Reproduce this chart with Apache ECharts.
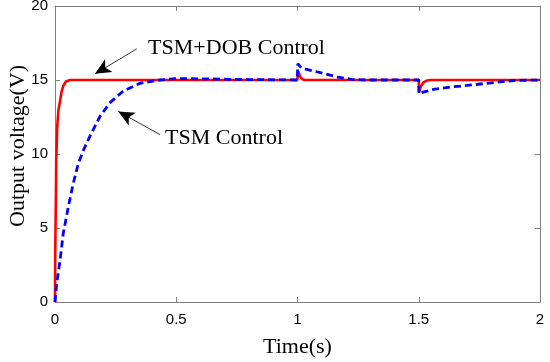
<!DOCTYPE html>
<html>
<head>
<meta charset="utf-8">
<script src="https://cdn.jsdelivr.net/npm/echarts@6/dist/echarts.min.js"></script>
<style>
html,body{margin:0;padding:0;background:#fff;}
#chart{width:550px;height:362px;}
</style>
</head>
<body>
<div id="chart"></div>
<script>
// ---- data ----
var xTicks = [0, 0.5, 1, 1.5, 2];
var yTicks = [0, 5, 10, 15, 20];

var dobName = 'TSM+DOB Control';
var dobT = [0, 0.001, 0.002, 0.004, 0.005, 0.007, 0.009, 0.014, 0.021, 0.027, 0.034, 0.045, 0.062, 0.5,
            1.0, 1.001, 1.006, 1.012, 1.02, 1.03, 1.5, 1.501, 1.505, 1.51, 1.52, 1.535, 1.55, 2.0];
var dobV = [0, 3.3, 3.4, 7.6, 9.6, 10.5, 11.8, 12.95, 13.6, 14.2, 14.6, 14.9, 15, 15,
            15, 15.65, 15.45, 15.2, 15.05, 15, 15, 14.2, 14.3, 14.6, 14.85, 14.97, 15, 15];

var tsmName = 'TSM Control';
var tsmT = [0, 0.007, 0.021, 0.034, 0.055, 0.075, 0.096, 0.117, 0.144, 0.186, 0.227, 0.282, 0.351, 0.433, 0.5, 0.6, 0.8,
            1.0, 1.001, 1.017, 1.058, 1.113, 1.167, 1.224, 1.28,
            1.5, 1.501, 1.518, 1.56, 1.629, 1.698, 1.766, 1.82, 1.9, 2.0];
var tsmV = [0, 1.26, 2.83, 4.63, 6.43, 8.0, 9.35, 10.25, 11.2, 12.56, 13.47, 14.26, 14.78, 15.0, 15.1, 15.08, 15.03,
            15.0, 16.1, 15.8, 15.64, 15.42, 15.19, 15.04, 15.0,
            15.0, 14.05, 14.18, 14.36, 14.52, 14.63, 14.75, 14.85, 14.97, 15.0];

// annotations (data coordinates): [textX, textY, arrowTailX, arrowTailY, arrowHeadX, arrowHeadY]
var dobNote = [0.384, 17.15, 0.337, 17.1, 0.165, 15.42];
var tsmNote = [0.454, 11.05, 0.433, 11.31, 0.261, 12.88];

function pairs(t, v) { return t.map(function (x, i) { return [x, v[i]]; }); }

var axisGray = '#808080';
var labelFont = {fontFamily: 'Liberation Sans, Arial, sans-serif', fontSize: 15, color: '#000'};
var serif = 'Liberation Serif, Times New Roman, serif';

var chart = echarts.init(document.getElementById('chart'), null, {renderer: 'canvas'});

function arrowLine(n) {
  return {
    silent: true,
    symbol: ['none', 'arrow'],
    symbolSize: [11, 16],
    label: {show: false},
    lineStyle: {color: '#000', width: 0.8, type: 'solid'},
    data: [[{coord: [n[2], n[3]]}, {coord: [n[4], n[5]]}]]
  };
}

var option = {
  animation: false,
  backgroundColor: '#fff',
  grid: {left: 55, right: 10, top: 6, bottom: 60, containLabel: false, outerBoundsMode: 'none'},
  xAxis: [{
    type: 'value', min: 0, max: 2, interval: 0.5,
    name: 'Time(s)', nameLocation: 'middle', nameGap: 34, nameMoveOverlap: false,
    nameTextStyle: {fontFamily: serif, fontSize: 22, color: '#000'},
    axisLine: {show: true, onZero: false, lineStyle: {color: axisGray, width: 1}},
    axisTick: {show: true, inside: true, length: 5, lineStyle: {color: axisGray}},
    axisLabel: Object.assign({margin: 10, formatter: function (v) { return xTicks.indexOf(v) >= 0 ? String(v) : ''; }}, labelFont),
    splitLine: {show: false}
  }, {
    type: 'value', min: 0, max: 2, interval: 0.5, position: 'top',
    axisLine: {show: true, onZero: false, lineStyle: {color: axisGray, width: 1}},
    axisTick: {show: true, inside: true, length: 5, lineStyle: {color: axisGray}},
    axisLabel: {show: false}, splitLine: {show: false}
  }],
  yAxis: [{
    type: 'value', min: 0, max: 20, interval: 5,
    name: 'Output voltage(V)', nameLocation: 'middle', nameGap: 26, nameMoveOverlap: false,
    nameTextStyle: {fontFamily: serif, fontSize: 22, color: '#000', padding: [0, 0, 0, 16]},
    axisLine: {show: true, onZero: false, lineStyle: {color: axisGray, width: 1}},
    axisTick: {show: true, inside: true, length: 5, lineStyle: {color: axisGray}},
    axisLabel: Object.assign({margin: 7, padding: [7, 0, 0, 0], formatter: function (v) { return yTicks.indexOf(v) >= 0 ? String(v) : ''; }}, labelFont),
    splitLine: {show: false}
  }, {
    type: 'value', min: 0, max: 20, interval: 5, position: 'right',
    axisLine: {show: true, onZero: false, lineStyle: {color: axisGray, width: 1}},
    axisTick: {show: true, inside: true, length: 5, lineStyle: {color: axisGray}},
    axisLabel: {show: false}, splitLine: {show: false}
  }],
  series: [{
    name: dobName, type: 'line', showSymbol: false, symbol: 'none',
    data: pairs(dobT, dobV),
    lineStyle: {color: '#ff0000', width: 2.6},
    itemStyle: {color: '#ff0000'},
    z: 2,
    markLine: arrowLine(dobNote)
  }, {
    name: tsmName, type: 'line', showSymbol: false, symbol: 'none',
    data: pairs(tsmT, tsmV),
    lineStyle: {color: '#0000ff', width: 2.8, type: [7, 4]},
    itemStyle: {color: '#0000ff'},
    z: 3,
    markLine: arrowLine(tsmNote)
  }]
};
chart.setOption(option);

function noteText(n, text) {
  var p = chart.convertToPixel({xAxisIndex: 0, yAxisIndex: 0}, [n[0], n[1]]);
  return {
    type: 'text', x: p[0], y: p[1],
    style: {text: text, fontFamily: serif, fontSize: 22, fill: '#000', verticalAlign: 'middle', align: 'left'}
  };
}
chart.setOption({graphic: [noteText(dobNote, dobName), noteText(tsmNote, tsmName)]});
</script>
</body>
</html>
